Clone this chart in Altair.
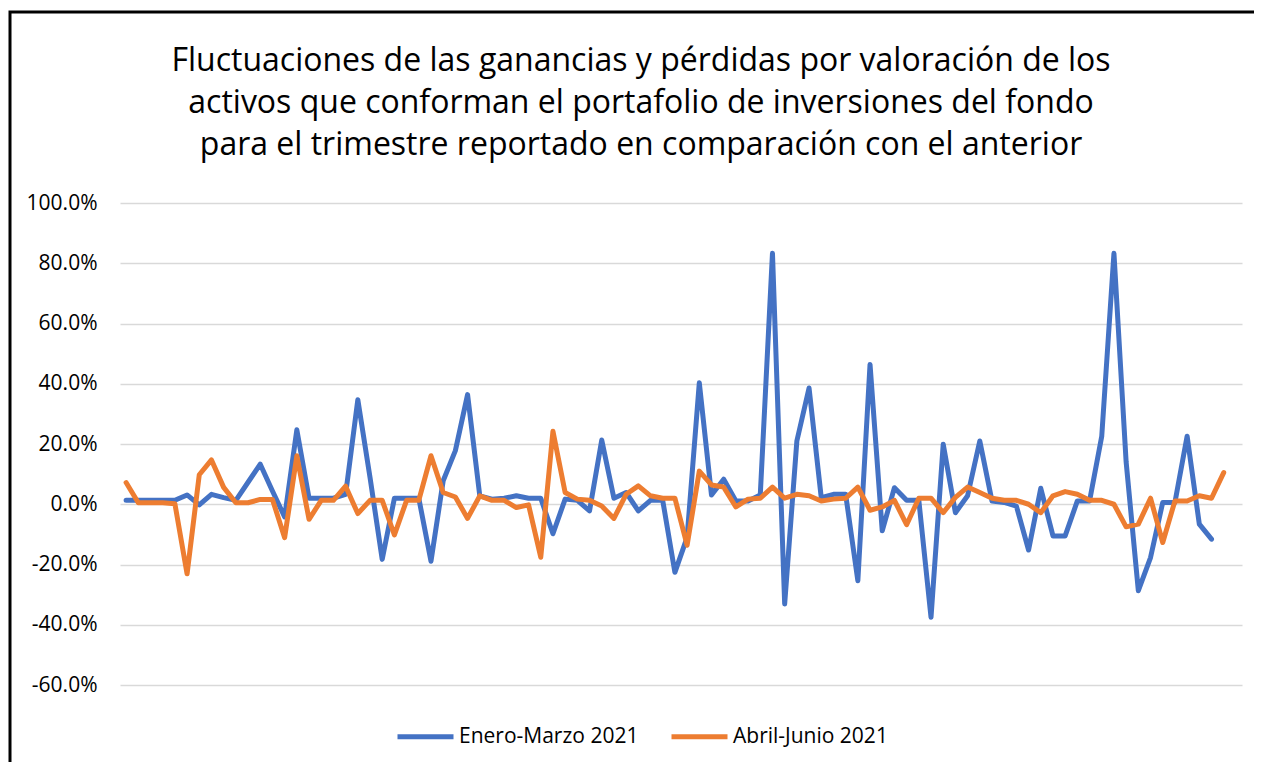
import altair as alt
import pandas as pd

# Values in percent
enero_marzo = [
    1.3, 1.3, 1.3, 1.3, 1.3, 3.1, -0.2, 3.3, 2.2, 1.3,
    7.3, 13.3, 4.4, -4.2, 24.7, 2.0, 2.0, 2.0, 3.3, 34.7,
    8.9, -18.3, 2.0, 2.0, 2.0, -18.9, 7.8, 17.8, 36.4, 2.8,
    1.7, 2.0, 2.8, 2.0, 2.0, -9.8, 1.7, 1.3, -2.2, 21.3,
    2.0, 3.9, -2.2, 1.3, 1.3, -22.6, -11.0, 40.3, 3.1, 8.3,
    1.1, 1.1, 3.1, 83.3, -33.1, 21.0, 38.6, 2.2, 3.3, 3.3,
    -25.4, 46.4, -8.8, 5.5, 1.3, 1.3, -37.5, 19.9, -2.8, 2.8,
    21.0, 1.1, 0.6, -0.6, -15.2, 5.3, -10.5, -10.5, 1.1, 1.1,
    22.6, 83.3, 14.0, -28.7, -17.7, 0.6, 0.6, 22.6, -6.6, -11.6,
]
abril_junio = [
    7.2, 0.5, 0.5, 0.5, 0.2, -23.1, 9.8, 14.7, 5.6, 0.5,
    0.5, 1.6, 1.6, -11.1, 16.1, -5.0, 1.3, 1.3, 6.0, -3.1,
    1.3, 1.3, -10.2, 1.3, 1.3, 16.1, 3.9, 2.4, -4.7, 2.8,
    1.3, 1.3, -1.1, -0.2, -17.6, 24.2, 3.9, 1.7, 1.3, -0.6,
    -4.7, 3.3, 6.1, 2.8, 2.0, 2.0, -13.6, 11.0, 6.4, 5.7,
    -0.9, 1.7, 2.0, 5.7, 2.0, 3.3, 2.8, 1.1, 1.7, 2.0,
    5.7, -2.0, -0.9, 1.3, -6.8, 2.0, 2.0, -2.8, 2.3, 5.7,
    3.9, 2.0, 1.3, 1.3, 0.0, -2.8, 2.8, 4.2, 3.3, 1.3,
    1.3, 0.0, -7.5, -6.6, 2.0, -12.7, 1.1, 1.1, 2.8, 2.0,
    10.5,
]
series_names = ["Enero-Marzo 2021", "Abril-Junio 2021"]
series_colors = ["#4472C4", "#ED7D31"]
y_ticks = [-60, -40, -20, 0, 20, 40, 60, 80, 100]
title_lines = [
    "Fluctuaciones de las ganancias y pérdidas por valoración de los",
    "activos que conforman el portafolio de inversiones del fondo",
    "para el trimestre reportado en comparación con el anterior",
]

rows = []
for i, v in enumerate(enero_marzo):
    rows.append({"idx": i, "valor": v, "serie": series_names[0]})
for i, v in enumerate(abril_junio):
    rows.append({"idx": i, "valor": v, "serie": series_names[1]})
df = pd.DataFrame(rows)

FONT = "Open Sans"
W, H = 1122, 482

x_enc = alt.X("idx:Q", scale=alt.Scale(domain=[-0.5, 91.5], nice=False, zero=False), axis=None)
y_enc = alt.Y(
    "valor:Q",
    scale=alt.Scale(domain=[-60, 100], nice=False),
    axis=alt.Axis(
        values=y_ticks,
        title=None,
        domain=False,
        ticks=False,
        tickSize=0,
        labelPadding=23,
        labelFont=FONT,
        labelFontSize=21,
        labelColor="#000000",
        grid=True,
        gridColor="#D9D9D9",
        gridWidth=1.5,
        labelExpr="(datum.value < 0 ? '-' : '') + format(abs(datum.value), '.1f') + '%'",
    ),
)
color_enc = alt.Color(
    "serie:N",
    scale=alt.Scale(domain=series_names, range=series_colors),
    legend=alt.Legend(
        title=None,
        orient="none",
        direction="horizontal",
        legendX=275,
        legendY=503,
        symbolType="stroke",
        symbolSize=3136,
        symbolStrokeWidth=5,
        labelFont=FONT,
        labelFontSize=21,
        labelColor="#000000",
        labelOffset=3,
        labelLimit=400,
        columnPadding=22,
        padding=0,
    ),
)

def series_line(name):
    return (
        alt.Chart(df)
        .transform_filter(alt.datum.serie == name)
        .mark_line(strokeWidth=5, strokeJoin="round", strokeCap="round")
        .encode(x=x_enc, y=y_enc, color=color_enc)
    )

border = (
    alt.Chart(pd.DataFrame({"a": [0]}))
    .mark_rect(fill="transparent", stroke="#000000", strokeWidth=3)
    .encode(
        x=alt.value(-110),
        x2=alt.value(W + 200),
        y=alt.value(-191),
        y2=alt.value(H + 300),
    )
)

chart = (
    alt.layer(border, series_line(series_names[0]), series_line(series_names[1]))
    .properties(
        width=W,
        height=H,
        view=alt.ViewBackground(stroke="transparent", strokeWidth=0),
        autosize=alt.AutoSizeParams(type="none"),
        padding={"left": 112, "top": 195, "right": 12, "bottom": 77},
        title=alt.TitleParams(
            text=title_lines,
            font=FONT,
            fontSize=32,
            fontWeight="normal",
            color="#000000",
            lineHeight=42,
            anchor="middle",
            dx=-40,
            offset=0,
            dy=151,
        ),
    )
    .configure_view(stroke="transparent", strokeWidth=0)
    .configure(background="white")
)

chart.save("out.html", embed_options={"renderer": "svg", "actions": False})
